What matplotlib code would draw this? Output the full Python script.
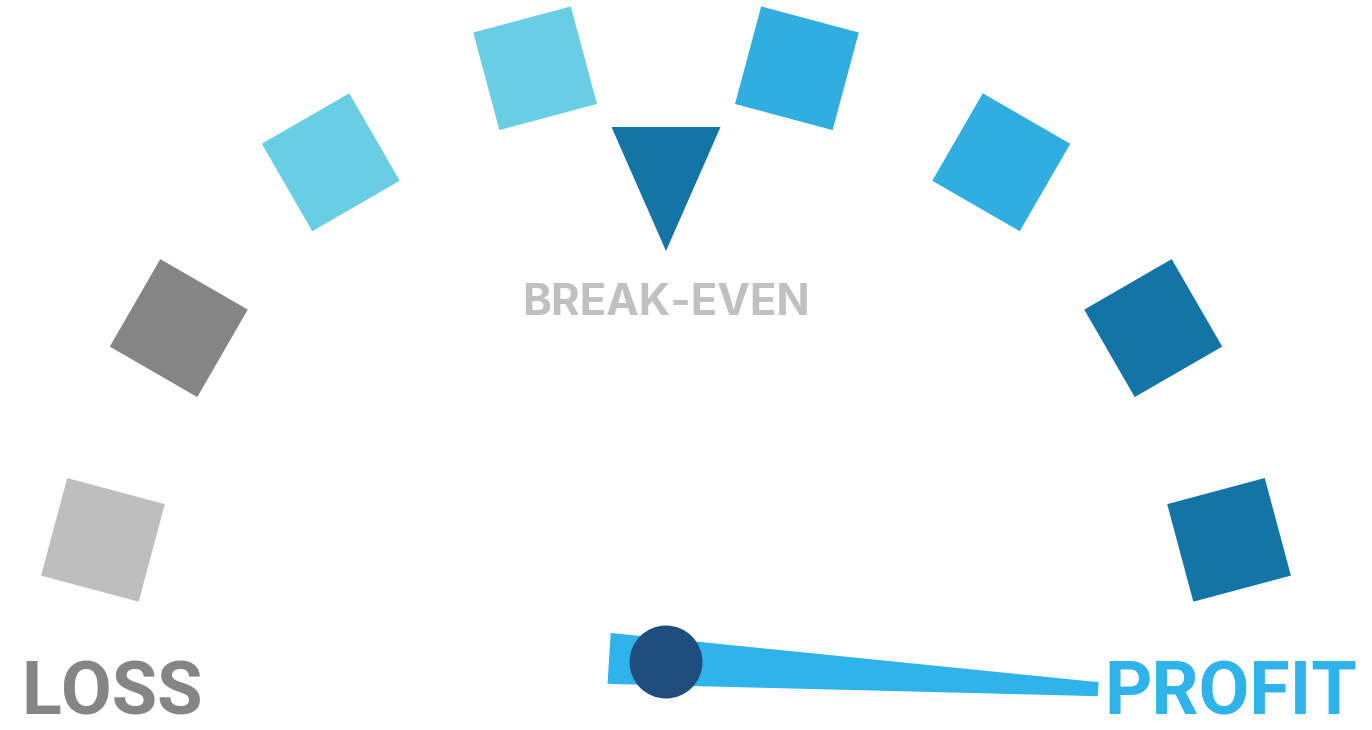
import numpy as np
import matplotlib.pyplot as plt
from matplotlib.patches import Rectangle, Polygon, Circle

# gauge segments, from the loss end to the profit end
segment_colors = ["#bebebe", "#858585", "#69cee3", "#69cee3",
                  "#31aee0", "#31aee0", "#1374a6", "#1374a6"]
scale_labels = ["LOSS", "BREAK-EVEN", "PROFIT"]
scale_values = [0, 50, 100]      # percent along the gauge
needle_value = 102               # needle sits just past full profit

# layout, in pixels with the needle pivot at (0, 0)
ARC_Y = 40        # centre of the square arc, above the pivot
ARC_R = 569
GAP = 13.3        # half gap (deg) kept free for the break-even marker
STEP = 22.8       # deg between squares
SQ = 101          # square side
TRI_OUT, TRI_IN, TRI_W = 495, 371, 109
NEEDLE_LEN, NEEDLE_TAIL = 433, 57
NEEDLE_W0, NEEDLE_W1 = 51, 14
PIVOT_R = 36.5


def val2ang(v):
    # 0 -> 180 deg (left), 100 -> 0 deg (right)
    return 180 - 1.8 * v


fig = plt.figure(figsize=(13.72, 7.30), dpi=100)
ax = fig.add_axes([0, 0, 1, 1])
ax.set_xlim(-666, 706)
ax.set_ylim(-68, 662)
ax.axis("off")

# squares round the arc, leaving a gap at the top for the marker
n = len(segment_colors)
half = n // 2
for i, col in enumerate(segment_colors):
    if i < half:
        ang = 90 + GAP + STEP * (half - 1 - i)
    else:
        ang = 90 - GAP - STEP * (i - half)
    a = np.radians(ang)
    cx = ARC_R * np.cos(a)
    cy = ARC_Y + ARC_R * np.sin(a)
    rot = round((ang - 90) / 15) * 15
    ax.add_patch(Rectangle((cx - SQ / 2, cy - SQ / 2), SQ, SQ, angle=rot,
                           rotation_point="center", color=col, lw=0))

# break-even marker (triangle pointing at the pivot)
a = np.radians(val2ang(scale_values[1]))
u = np.array([np.cos(a), np.sin(a)])
nrm = np.array([-u[1], u[0]])
c0 = np.array([0, ARC_Y])
tri = [c0 + TRI_OUT * u + TRI_W / 2 * nrm,
       c0 + TRI_OUT * u - TRI_W / 2 * nrm,
       c0 + TRI_IN * u]
ax.add_patch(Polygon(tri, closed=True, color="#1374a6", lw=0))

# needle
a = np.radians(val2ang(needle_value))
d = np.array([np.cos(a), np.sin(a)])
nrm = np.array([-d[1], d[0]])
tail = -NEEDLE_TAIL * d
tip = NEEDLE_LEN * d
needle = [tail + NEEDLE_W0 / 2 * nrm, tip + NEEDLE_W1 / 2 * nrm,
          tip - NEEDLE_W1 / 2 * nrm, tail - NEEDLE_W0 / 2 * nrm]
ax.add_patch(Polygon(needle, closed=True, color="#2eb3ea", lw=0))
ax.add_patch(Circle((0, 0), PIVOT_R, color="#1f4e7e", lw=0))

# labels
side_font = ["Roboto", "DejaVu Sans"]
ax.text(-645, -67.5, scale_labels[0], ha="left", va="bottom",
        fontsize=53, fontweight="bold", color="#858585", family=side_font)
ax.text(438, -67.5, scale_labels[2], ha="left", va="bottom",
        fontsize=53, fontweight="bold", color="#2eb3ea", family=side_font)
ax.text(0, 347, scale_labels[1], ha="center", va="baseline",
        fontsize=31.5, fontweight="bold", color="#c0c0c0",
        family=["Inter", "DejaVu Sans"])

fig.savefig("out.png", dpi=100, facecolor="white")
